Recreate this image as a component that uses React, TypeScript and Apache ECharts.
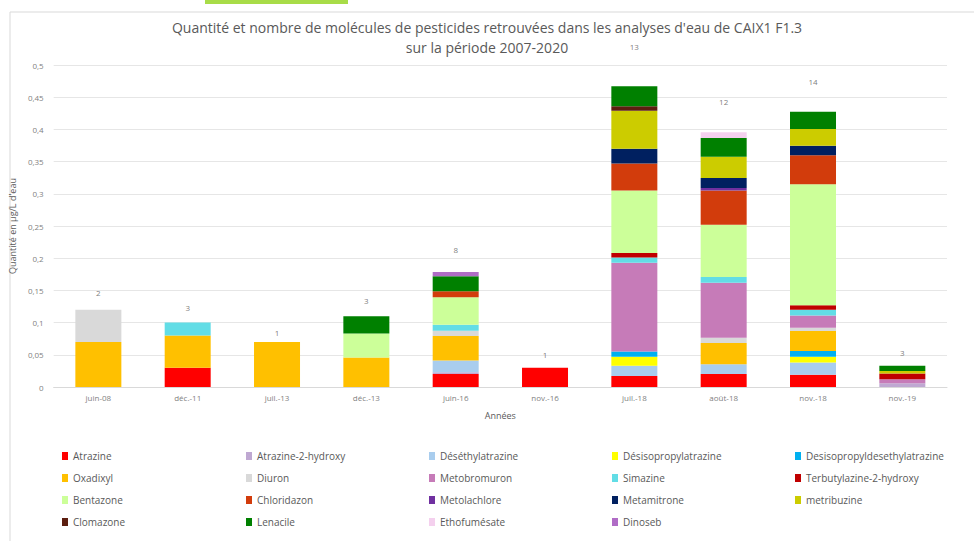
import React, { useEffect, useRef } from "react";
import * as echarts from "echarts";

const categories = ["juin-08", "déc.-11", "juil.-13", "déc.-13", "juin-16", "nov.-16", "juil.-18", "août-18", "nov.-18", "nov.-19"];

const seriesNames = [
  "Atrazine", "Atrazine-2-hydroxy", "Déséthylatrazine", "Désisopropylatrazine", "Desisopropyldesethylatrazine",
  "Oxadixyl", "Diuron", "Metobromuron", "Simazine", "Terbutylazine-2-hydroxy",
  "Bentazone", "Chloridazon", "Metolachlore", "Metamitrone", "metribuzine",
  "Clomazone", "Lenacile", "Ethofumésate", "Dinoseb",
];

const seriesColors = [
  "#FF0000", "#BFA8D2", "#A9CDEE", "#FFFF00", "#00B0F0",
  "#FFC000", "#D9D9D9", "#C67BB8", "#62DDE6", "#C00000",
  "#CCFF99", "#D23C0C", "#7030A0", "#002060", "#CCCC00",
  "#5C1E10", "#008000", "#F4D0EE", "#B06CC6",
];

// values per category (µg/L)
const atrazine = [0, 0.03, 0, 0, 0.02, 0.03, 0.017, 0.02, 0.019, 0];
const atrazine2hydroxy = [0, 0, 0, 0, 0.003, 0, 0, 0, 0, 0.006];
const desethylatrazine = [0, 0, 0, 0, 0.018, 0, 0.016, 0.0155, 0.019, 0];
const desisopropylatrazine = [0, 0, 0, 0, 0, 0, 0.014, 0, 0.009, 0];
const desisopropyldesethylatrazine = [0, 0, 0, 0, 0, 0, 0.008, 0, 0.009, 0];
const oxadixyl = [0.07, 0.05, 0.07, 0.046, 0.038, 0, 0, 0.033, 0.031, 0];
const diuron = [0.05, 0, 0, 0, 0.0085, 0, 0, 0.008, 0.005, 0];
const metobromuron = [0, 0, 0, 0, 0, 0, 0.138, 0.0855, 0.019, 0.006];
const simazine = [0, 0.02, 0, 0, 0.0093, 0, 0.008, 0.009, 0.009, 0];
const terbutylazine2hydroxy = [0, 0, 0, 0, 0, 0, 0.007, 0, 0.007, 0.009];
const bentazone = [0, 0, 0, 0.037, 0.0424, 0, 0.097, 0.081, 0.188, 0];
const chloridazon = [0, 0, 0, 0, 0.0093, 0, 0.042, 0.053, 0.045, 0];
const metolachlore = [0, 0, 0, 0, 0, 0, 0, 0.004, 0, 0];
const metamitrone = [0, 0, 0, 0, 0, 0, 0.023, 0.0156, 0.0145, 0];
const metribuzine = [0, 0, 0, 0, 0, 0, 0.059, 0.033, 0.026, 0.004];
const clomazone = [0, 0, 0, 0, 0, 0, 0.007, 0, 0, 0];
const lenacile = [0, 0, 0, 0.027, 0.0235, 0, 0.031, 0.029, 0.027, 0.008];
const ethofumesate = [0, 0, 0, 0, 0, 0, 0, 0.009, 0, 0];
const dinoseb = [0, 0, 0, 0, 0.0066, 0, 0, 0, 0, 0];

const seriesValues = [
  atrazine, atrazine2hydroxy, desethylatrazine, desisopropylatrazine, desisopropyldesethylatrazine,
  oxadixyl, diuron, metobromuron, simazine, terbutylazine2hydroxy,
  bentazone, chloridazon, metolachlore, metamitrone, metribuzine,
  clomazone, lenacile, ethofumesate, dinoseb,
];

// number of molecules found, and the level (µg/L) where each count label sits
const moleculeCounts = [2, 3, 1, 3, 8, 1, 13, 12, 14, 3];
const countLabelLevel = [0.146, 0.123, 0.084, 0.135, 0.213, 0.051, 0.528, 0.444, 0.475, 0.053];

const yTicks = { min: 0, max: 0.5, interval: 0.05 };

const titleLine1 = "Quantité et nombre de molécules de pesticides retrouvées dans les analyses d'eau de CAIX1 F1.3";
const titleLine2 = "sur la période 2007-2020";

const FONT = "'Century Gothic', 'Open Sans', sans-serif";
const TEXT = "#595959";

export default function App() {
  const ref = useRef<HTMLDivElement>(null);

  useEffect(() => {
    document.body.style.margin = "0";
    if (!ref.current) return;
    const chart = echarts.init(ref.current, undefined, { renderer: "svg" });

    const legendCols = [62, 246, 429, 612, 795];
    const legendRows = [451, 473, 495, 517];
    const legends = seriesNames.map((name, i) => ({
      show: true,
      data: [name],
      left: legendCols[i % 5],
      top: legendRows[Math.floor(i / 5)],
      itemWidth: 6,
      itemHeight: 8,
      itemGap: 4,
      icon: "rect",
      padding: 0,
      textStyle: { color: TEXT, fontSize: 10, fontFamily: FONT },
    }));

    const bars = seriesNames.map((name, i) => ({
      name,
      type: "bar",
      stack: "total",
      barWidth: 46,
      itemStyle: { color: seriesColors[i] },
      data: seriesValues[i],
    }));

    const titleStyle = { color: TEXT, fontSize: 14, lineHeight: 15, fontWeight: "normal", fontFamily: FONT };

    chart.setOption({
      animation: false,
      backgroundColor: "#ffffff",
      title: [
        { text: titleLine1, left: "center", top: 20, padding: 0, textStyle: titleStyle },
        { text: titleLine2, left: "center", top: 40, padding: 0, textStyle: titleStyle },
      ],
      legend: legends,
      grid: { left: 52, right: 27, top: 65, bottom: 154 },
      xAxis: {
        type: "category",
        data: categories,
        name: "Années",
        nameLocation: "middle",
        nameGap: 24,
        nameTextStyle: { color: TEXT, fontSize: 9, fontFamily: FONT },
        axisLine: { lineStyle: { color: "#D9D9D9" } },
        axisTick: { show: false },
        axisLabel: { color: "#7F7F7F", fontSize: 8, fontFamily: FONT, margin: 6 },
      },
      yAxis: {
        type: "value",
        min: yTicks.min,
        max: yTicks.max,
        interval: yTicks.interval,
        name: "Quantité en µg/L d'eau",
        nameLocation: "middle",
        nameGap: 30,
        nameRotate: 90,
        nameTextStyle: { color: TEXT, fontSize: 9, fontFamily: FONT },
        axisLine: { show: false },
        axisTick: { show: false },
        splitLine: { lineStyle: { color: "#E6E6E6" } },
        axisLabel: {
          color: "#7F7F7F",
          fontSize: 8,
          fontFamily: FONT,
          margin: 10,
          formatter: (v: number) => String(Math.round(v * 100) / 100).replace(".", ","),
        },
      },
      series: [
        ...bars,
        {
          name: "Nombre de molécules",
          type: "scatter",
          clip: false,
          symbolSize: 0,
          silent: true,
          data: countLabelLevel,
          label: {
            show: true,
            position: "inside",
            color: TEXT,
            fontSize: 8,
            fontFamily: FONT,
            formatter: (p: any) => String(moleculeCounts[p.dataIndex]),
          },
        },
      ],
      graphic: [
        { type: "rect", shape: { x: 10, y: 12, width: 1000, height: 600 }, style: { fill: "none", stroke: "#D9D9D9", lineWidth: 1 }, silent: true },
        { type: "rect", shape: { x: 205, y: 0, width: 143, height: 4 }, style: { fill: "#A8DC48" }, silent: true },
      ],
    });

    return () => chart.dispose();
  }, []);

  return <div ref={ref} style={{ width: 974, height: 541 }} />;
}
